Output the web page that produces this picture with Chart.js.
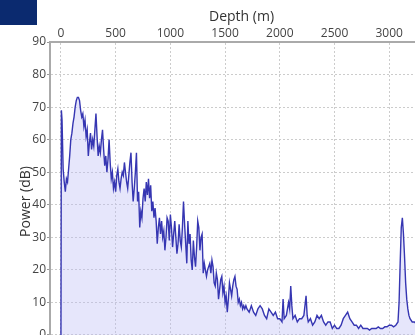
<!DOCTYPE html>
<html><head><meta charset="utf-8">
<script src="https://cdn.jsdelivr.net/npm/chart.js@4"></script>
<style>
html,body{margin:0;padding:0;overflow:hidden;background:#fff;width:415px;height:335px;}
#wrap{position:relative;width:415px;height:335px;overflow:hidden;}
canvas{position:absolute;left:0;top:0;}
#badge{position:absolute;left:0;top:0;width:37px;height:25px;background:#0b2a6f;z-index:2;}
</style></head><body>
<div id="wrap"><canvas id="c" width="440" height="370" style="width:440px;height:370px"></canvas><div id="badge"></div></div>
<script>
const depths = [
  0, 4,
  10, 20, 30, 40, 50, 60, 70, 80, 90, 100,
  110, 120, 130, 140, 150, 160, 170, 180, 190, 200,
  210, 220, 230, 240, 250, 260, 270, 280, 290, 300,
  310, 320, 330, 340, 350, 360, 370, 380, 390, 400,
  410, 420, 430, 440, 450, 460, 470, 480, 490, 500,
  510, 520, 530, 540, 550, 560, 570, 580, 590, 600,
  610, 620, 630, 640, 650, 660, 670, 680, 690, 700,
  710, 720, 730, 740, 750, 760, 770, 780, 790, 800,
  810, 820, 830, 840, 850, 860, 870, 880, 890, 900,
  910, 920, 930, 940, 950, 960, 970, 980, 990, 1000,
  1010, 1020, 1030, 1040, 1050, 1060, 1070, 1080, 1090, 1100,
  1110, 1120, 1130, 1140, 1150, 1160, 1170, 1180, 1190, 1200,
  1210, 1220, 1230, 1240, 1250, 1260, 1270, 1280, 1290, 1300,
  1310, 1320, 1330, 1340, 1350, 1360, 1370, 1380, 1390, 1400,
  1410, 1420, 1430, 1440, 1450, 1460, 1470, 1480, 1490, 1500,
  1510, 1520, 1530, 1540, 1550, 1560, 1570, 1580, 1590, 1600,
  1610, 1620, 1630, 1640, 1650, 1660, 1670, 1680, 1690, 1700,
  1720, 1740, 1760, 1780, 1800, 1820, 1840, 1860, 1880, 1900,
  1920, 1940, 1960, 1980, 2000, 2020, 2030, 2040, 2060, 2080,
  2090, 2100, 2110, 2120, 2140, 2160, 2180, 2200, 2220, 2240,
  2250, 2260, 2280, 2300, 2320, 2340, 2360, 2380, 2400, 2420,
  2440, 2460, 2480, 2500, 2520, 2540, 2560, 2580, 2600, 2620,
  2640, 2660, 2680, 2700, 2720, 2740, 2760, 2780, 2800, 2820,
  2840, 2860, 2880, 2900, 2920, 2940, 2960, 2980, 3000, 3020,
  3040, 3060, 3080, 3090, 3100, 3110, 3120, 3130, 3140, 3150,
  3160, 3170, 3180, 3190, 3210, 3230, 3260, 3300
];
const powers = [
  0, 69,
  66, 51, 47, 44, 48, 47, 51, 55, 60, 62,
  65, 67, 70, 72, 73, 73, 72, 69, 67, 68,
  64, 66, 61, 63, 55, 59, 62, 57, 60, 58,
  63, 68, 61, 55, 58, 56, 60, 63, 57, 52,
  55, 50, 54, 60, 53, 48, 50, 45, 47, 44,
  49, 51, 47, 45, 48, 50, 49, 53, 50, 47,
  45, 49, 53, 56, 47, 41, 45, 50, 56, 41,
  44, 33, 38, 36, 42, 45, 41, 47, 43, 48,
  42, 46, 38, 41, 36, 39, 35, 28, 33, 36,
  31, 35, 30, 32, 26, 30, 36, 35, 29, 37,
  33, 27, 31, 35, 30, 25, 28, 34, 29, 27,
  33, 41, 34, 28, 22, 35, 28, 31, 23, 20,
  29, 24, 21, 27, 35, 33, 26, 30, 31, 19,
  22, 20, 18, 20, 21, 22, 19, 23, 21, 16,
  15, 19, 17, 11, 14, 17, 18, 13, 15, 10,
  12, 7, 11, 16, 14, 12, 15, 17, 18, 15,
  14, 10, 11, 9, 10, 8, 9, 8, 9, 8,
  7, 9, 7, 6, 8, 9, 8, 6, 5, 8,
  7, 6, 7, 5, 5, 4, 11, 5, 6, 10,
  8, 15, 9, 5, 6, 4, 5, 5, 6, 12,
  6, 4, 5, 3, 4, 6, 5, 6, 4, 3,
  4, 4, 2, 3, 2, 2, 3, 5, 6, 7,
  5, 4, 3, 3, 2, 3, 2, 2, 2, 1.5,
  2, 2, 2, 2.5, 2, 2, 2.5, 2.5, 3, 3,
  2.5, 3, 4, 10, 22, 33, 36, 31, 24, 16,
  11, 8, 6, 5, 4, 4, 3, 3
];
const depthTicks = [0, 500, 1000, 1500, 2000, 2500, 3000];
const powerTicks = [0, 10, 20, 30, 40, 50, 60, 70, 80, 90];

const points = depths.map((d, i) => ({x: d, y: powers[i]}));
const FONT = "'Open Sans', 'DejaVu Sans', sans-serif";

new Chart(document.getElementById('c'), {
  type: 'line',
  data: {
    datasets: [{
      data: points,
      borderColor: '#3636b2',
      borderWidth: 1.4,
      backgroundColor: 'rgba(190,190,245,0.38)',
      fill: 'origin',
      pointRadius: 0,
      tension: 0
    }]
  },
  options: {
    responsive: false,
    animation: false,
    devicePixelRatio: 1,
    layout: {padding: {left: 0, top: 0, right: 7, bottom: 9}},
    plugins: {legend: {display: false}, tooltip: {enabled: false}},
    scales: {
      x: {
        type: 'linear',
        position: 'top',
        min: -100,
        max: 3400,
        afterBuildTicks: (axis) => { axis.ticks = depthTicks.map(v => ({value: v})); },
        afterFit: (axis) => { axis.height = 42; },
        ticks: {color: '#444', font: {family: FONT, size: 12}, padding: 1, maxRotation: 0, callback: (v) => String(v)},
        grid: {color: '#cccccc', lineWidth: 1, drawTicks: false},
        border: {display: true, color: '#aaaaaa', width: 2, dash: [2, 2]},
        title: {display: true, text: 'Depth (m)', color: '#333', font: {family: FONT, size: 14}, padding: {top: 9, bottom: 0}}
      },
      y: {
        type: 'linear',
        position: 'left',
        min: -8,
        max: 90,
        afterBuildTicks: (axis) => { axis.ticks = powerTicks.map(v => ({value: v})); },
        afterFit: (axis) => { axis.width = 50; },
        ticks: {color: '#444', font: {family: FONT, size: 12}, padding: 1, callback: (v) => String(v)},
        grid: {color: '#cccccc', lineWidth: 1, drawTicks: true, tickLength: 3, tickColor: '#999', tickBorderDash: []},
        border: {display: true, color: '#aaaaaa', width: 2, dash: [2, 2]},
        title: {display: true, text: 'Power (dB)', color: '#333', font: {family: FONT, size: 14}, padding: {top: 18, bottom: 0}}
      }
    }
  }
});
</script>
</body></html>
